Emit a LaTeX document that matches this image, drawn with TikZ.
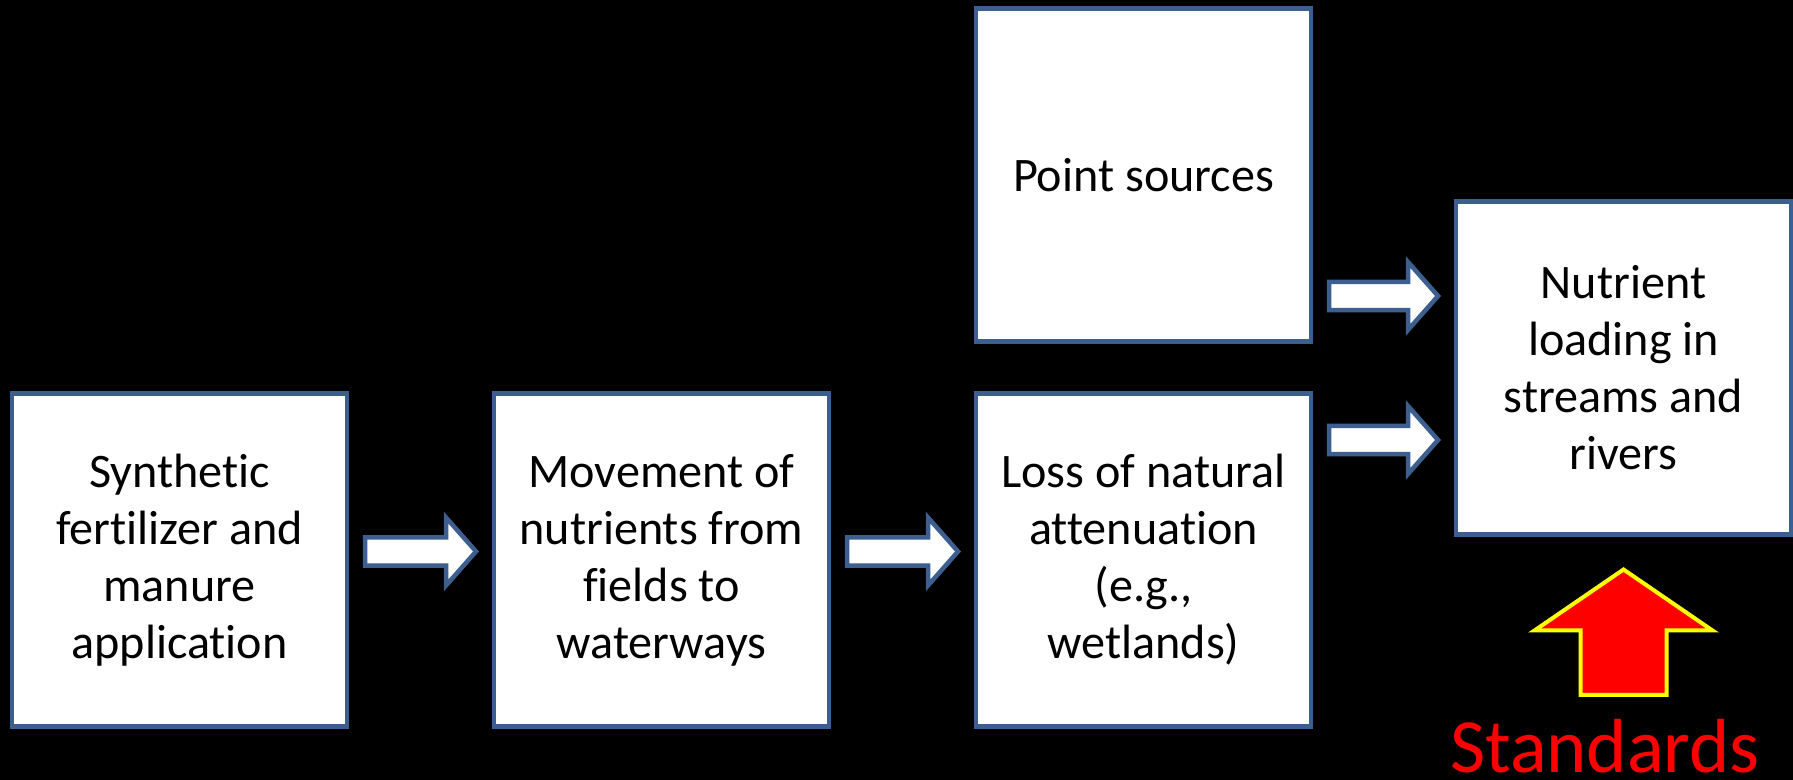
\documentclass[tikz,border=0pt]{standalone}
\usepackage{fontspec}
\setmainfont{Carlito}[Ligatures={NoCommon,NoRare,NoContextual}]
\usetikzlibrary{positioning,calc}
\definecolor{edge}{HTML}{3D5F8F}
\definecolor{warn}{HTML}{FF0000}
\definecolor{rim}{HTML}{FFFF00}
\def\agap{0.18cm}
\def\ashaft{0.142cm}
\def\awing{0.34cm}
\def\ahead{0.30cm}

\begin{document}
\begin{tikzpicture}[
  x=1cm, y=1cm,
  every node/.style={inner sep=0pt, outer sep=0pt},
  box/.style={draw=edge, fill=white, line width=0.045cm, align=center,
              minimum width=3.35cm, minimum height=3.33cm,
              font=\fontsize{13.7}{16.2}\selectfont},
  pipe/.style={draw=edge, fill=white, line width=0.045cm, line join=miter,
    to path={let \p1=(\tikztostart), \p2=(\tikztotarget) in
      (\x1+\agap,\y2+\ashaft) -- (\x2-\agap-\ahead,\y2+\ashaft)
      -- (\x2-\agap-\ahead,\y2+\awing) -- (\x2-\agap,\y2)
      -- (\x2-\agap-\ahead,\y2-\awing) -- (\x2-\agap-\ahead,\y2-\ashaft)
      -- (\x1+\agap,\y2-\ashaft) -- cycle}},
  lift/.style={draw=rim, fill=warn, line width=0.04cm, line join=miter,
    to path={let \p1=(\tikztostart), \p2=(\tikztotarget) in
      (\x2-0.43cm,\y1) -- (\x2-0.43cm,\y2-0.61cm) -- (\x2-0.89cm,\y2-0.61cm)
      -- (\x2,\y2) -- (\x2+0.89cm,\y2-0.61cm) -- (\x2+0.43cm,\y2-0.61cm)
      -- (\x2+0.43cm,\y1) -- cycle}},
]

% ---------------------------------------------------------------- canvas
\fill[black] (0,0) rectangle (17.93,7.80);
\useasboundingbox (0,0) rectangle (17.93,7.80);

% ---------------------------------------------------------------- chain
\node[box] (syn) at (1.795,2.20)
  {Synthetic\\ fertilizer and\\ manure\\ application};
\node[box, right=1.47cm of syn] (mov)
  {Movement of\\ nutrients from\\ fields to\\ waterways};
\node[box, right=1.47cm of mov] (loss)
  {Loss of natural\\ attenuation\\ (e.g.,\\ wetlands)};
\node[box, above=0.52cm of loss] (pts) {Point sources};
\node[box, anchor=west] (nut) at ($(loss.east)+(1.45,1.92)$)
  {Nutrient\\ loading in\\ streams and\\ rivers};

% ---------------------------------------------------------------- label
\node[anchor=base, text=warn, font=\fontsize{21.8}{26}\selectfont]
  (std) at (16.05,0.07) {Standards};

% ---------------------------------------------------------------- flow
\draw[pipe] (syn.east) to ([yshift=0.085cm]mov.west);
\draw[pipe] (mov.east) to ([yshift=0.085cm]loss.west);
\draw[pipe] (pts.east) to ([yshift=0.72cm]nut.west);
\draw[pipe] (loss.east) to ([yshift=-0.72cm]nut.west);
\draw[lift] ([yshift=0.78cm]std.base) to ([yshift=-0.35cm]nut.south);

\end{tikzpicture}
\end{document}
